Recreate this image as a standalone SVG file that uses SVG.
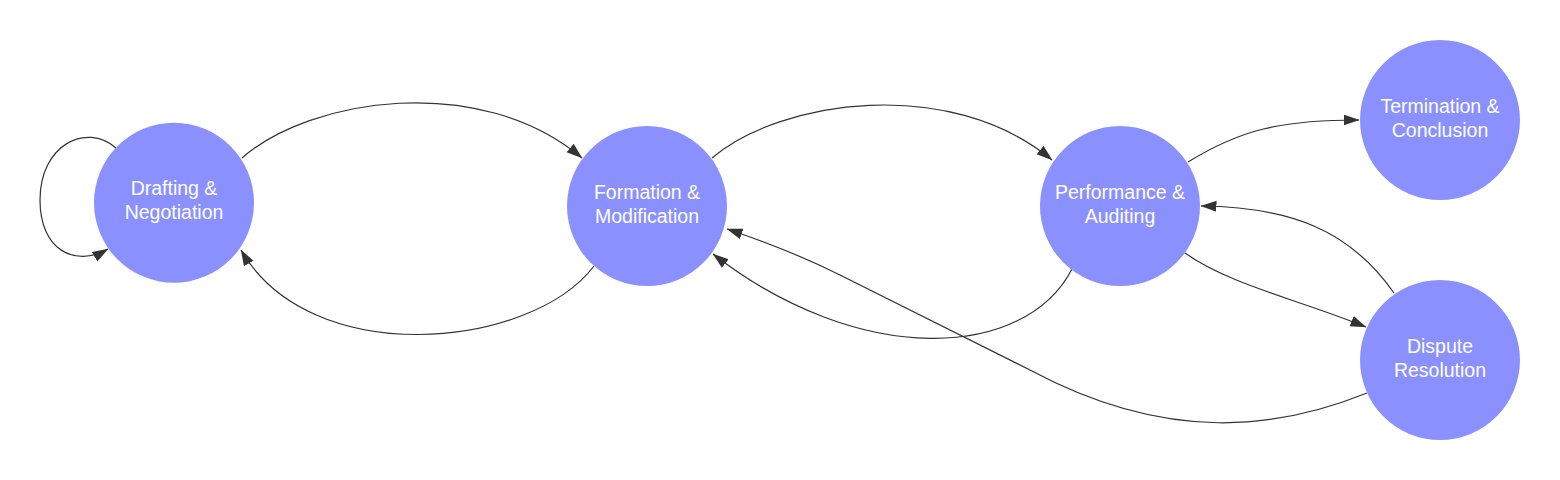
<svg xmlns="http://www.w3.org/2000/svg" width="1560" height="480" viewBox="0 0 1560 480">
<style>
.node{fill:#8A91FE;}
.lbl{font-family:"Liberation Sans",Arial,sans-serif;font-size:19.5px;fill:#ffffff;text-anchor:middle;}
.edge{fill:none;stroke:#333333;stroke-width:1.2;marker-end:url(#arr);}
</style>
<defs>
<marker id="arr" markerUnits="userSpaceOnUse" markerWidth="17" markerHeight="12" refX="15.5" refY="5.5" orient="auto">
<path d="M0,0 L16,5.5 L0,11 z" fill="#333333"/>
</marker>
</defs>
<rect width="1560" height="480" fill="#ffffff"/>
<g id="connectors">
<path class="edge" d="M116,148 C 86,122 40,145 40,200 C 40,250 75,268 108,249"/>
<path class="edge" d="M242,158 C 310,98 480,72 582,158"/>
<path class="edge" d="M594,266 C 530,350 310,370 241,250"/>
<path class="edge" d="M1072,269 C 1025,360 860,368 713,254"/>
<path class="edge" d="M712,158 C 780,100 950,75 1052,160"/>
<path class="edge" d="M1367,393 C 1280,428 1170,445 1030,370 L 840,275 C 800,255 760,240 727,229"/>
<path class="edge" d="M1188,162 C 1240,130 1280,120 1359,120"/>
<path class="edge" d="M1185,253 C 1230,285 1300,300 1366,327"/>
<path class="edge" d="M1394,293 C 1350,230 1290,207 1201,206"/>
</g>
<g id="drafting">
<circle class="node" cx="174" cy="202.7" r="80"/>
<text class="lbl" x="174" y="195.2">Drafting &amp;</text>
<text class="lbl" x="174" y="219.2">Negotiation</text>
</g>
<g id="formation">
<circle class="node" cx="647" cy="206" r="80"/>
<text class="lbl" x="647" y="198.5">Formation &amp;</text>
<text class="lbl" x="647" y="222.5">Modification</text>
</g>
<g id="performance">
<circle class="node" cx="1120" cy="206" r="80"/>
<text class="lbl" x="1120" y="198.5">Performance &amp;</text>
<text class="lbl" x="1120" y="222.5">Auditing</text>
</g>
<g id="termination">
<circle class="node" cx="1440" cy="120" r="80"/>
<text class="lbl" x="1440" y="112.5">Termination &amp;</text>
<text class="lbl" x="1440" y="136.5">Conclusion</text>
</g>
<g id="dispute">
<circle class="node" cx="1440" cy="360" r="80"/>
<text class="lbl" x="1440" y="352.5">Dispute</text>
<text class="lbl" x="1440" y="376.5">Resolution</text>
</g>
</svg>
